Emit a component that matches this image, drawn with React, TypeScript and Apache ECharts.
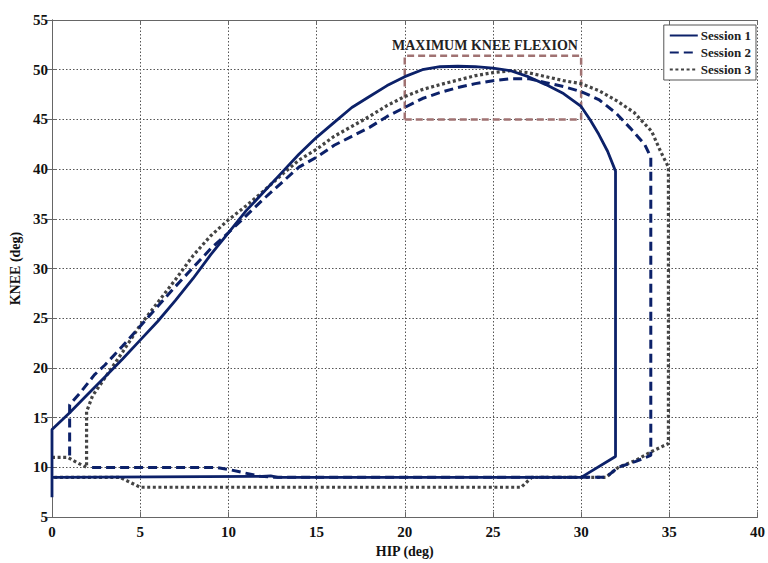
import React, { useEffect, useRef } from "react";
import * as echarts from "echarts";

const xTicks = [0, 5, 10, 15, 20, 25, 30, 35, 40];
const yTicks = [5, 10, 15, 20, 25, 30, 35, 40, 45, 50, 55];

const session1: [number, number][] = [
  [0, 7], [0, 13.8], [1, 15.5], [2, 17.3], [3, 19.1], [4, 20.9], [5, 22.8], [6, 24.7],
  [7, 26.8], [8, 29.0], [9, 31.4], [10, 33.6], [11, 35.8], [12, 37.7], [13, 39.6],
  [14, 41.5], [15, 43.2], [16, 44.7], [17, 46.2], [18, 47.3], [19, 48.4], [20, 49.3],
  [21, 50.0], [22, 50.3], [23, 50.35], [24, 50.3], [25, 50.15], [26, 49.9], [27, 49.3],
  [28, 48.5], [29, 47.6], [30, 46.3], [30.5, 45.0], [31, 43.5], [31.5, 41.8],
  [31.95, 39.8], [31.95, 11.1], [30, 9], [12.8, 9], [12.4, 9.15], [11.9, 9.1], [0, 9],
];

const session2: [number, number][] = [
  [1, 11.2], [1, 16.3], [1.6, 17.5], [2.4, 19.3], [3, 20.3], [4, 22.2], [5, 24.2],
  [6, 26.2], [7, 28.2], [8, 30.1], [9, 32.0], [10, 33.6], [11, 35.3], [12, 37.0],
  [13, 38.6], [14, 40.2], [15, 41.2], [16, 42.4], [17, 43.3], [18, 44.2], [19, 45.3],
  [20, 46.2], [21, 47.1], [22, 47.7], [23, 48.2], [24, 48.6], [25, 48.9], [26, 49.1],
  [27, 49.1], [28, 48.7], [29, 48.3], [30, 47.8], [31, 47.0], [32, 45.6], [32.8, 44.1],
  [33.6, 42.5], [33.95, 41.2], [33.95, 11.2], [33.1, 10.6], [32.1, 10], [31.4, 9],
  [12.7, 9], [11.8, 9.1], [10, 9.8], [9.3, 10], [2, 10],
];

const session3: [number, number][] = [
  [0, 11], [0.9, 11], [1.4, 10.5], [1.96, 10], [1.96, 15.6], [2.3, 17.2], [3, 19.0],
  [4, 21.6], [5, 24.3], [6, 26.6], [7, 28.9], [8, 31.3], [9, 33.3], [10, 34.9],
  [11, 36.3], [12, 37.8], [13, 39.4], [14, 40.9], [15, 42.0], [16, 43.3], [17, 44.3],
  [18, 45.3], [19, 46.4], [20, 47.3], [21, 48.0], [22, 48.5], [23, 48.95], [24, 49.4],
  [25, 49.7], [26, 49.9], [27, 49.7], [28, 49.3], [29, 48.9], [30, 48.6], [31, 47.9],
  [32, 46.9], [33, 45.7], [34, 43.8], [34.5, 41.8], [34.95, 40.2], [34.95, 12.4],
  [34, 11.6], [33.1, 10.7], [32.1, 10], [31.4, 9], [27.2, 9], [26.6, 8], [5, 8],
  [3.85, 9], [0, 9],
];

const flexionBox: [number, number][] = [
  [20, 45], [20, 51.4], [30, 51.4], [30, 45], [20, 45],
];

const seriesNames = ["Session 1", "Session 2", "Session 3"];
const boxLabel = "MAXIMUM KNEE FLEXION";

const FONT = "'Liberation Serif', 'DejaVu Serif', serif";
const NAVY = "#0c2169";
const GRAY = "#444444";

export default function App() {
  const ref = useRef<HTMLDivElement>(null);
  useEffect(() => {
    if (!ref.current) return;
    const chart = echarts.init(ref.current, undefined, { renderer: "svg" });
    const axisCommon = {
      axisLine: { show: true, lineStyle: { color: "#666", width: 1 } },
      axisTick: { show: true, inside: true, length: 5, lineStyle: { color: "#666" } },
    };
    chart.setOption({
      animation: false,
      backgroundColor: "#fff",
      grid: { left: 52, right: 8, top: 20, bottom: 36, containLabel: false },
      xAxis: [
        {
          type: "value",
          min: 0,
          max: 40,
          interval: 5,
          name: "HIP (deg)",
          nameLocation: "middle",
          nameGap: 20,
          nameTextStyle: { fontFamily: FONT, fontWeight: "bold", fontSize: 14, color: "#111" },
          ...axisCommon,
          axisLabel: {
            fontFamily: FONT,
            fontWeight: "bold",
            fontSize: 15,
            color: "#111",
            margin: 7,
            formatter: (v: number) => (xTicks.includes(v) ? String(v) : ""),
          },
          splitLine: { show: true, lineStyle: { color: "#555", type: [1.5, 2], width: 1 } },
        },
        {
          type: "value",
          position: "top",
          min: 0,
          max: 40,
          interval: 5,
          ...axisCommon,
          axisLabel: { show: false },
          splitLine: { show: false },
        },
      ],
      yAxis: [
        {
          type: "value",
          min: 5,
          max: 55,
          interval: 5,
          name: "KNEE (deg)",
          nameLocation: "middle",
          nameGap: 28,
          nameTextStyle: { fontFamily: FONT, fontWeight: "bold", fontSize: 14, color: "#111" },
          ...axisCommon,
          axisLabel: {
            fontFamily: FONT,
            fontWeight: "bold",
            fontSize: 15,
            color: "#111",
            margin: 4,
            formatter: (v: number) => (yTicks.includes(v) ? String(v) : ""),
          },
          splitLine: { show: true, lineStyle: { color: "#555", type: [1.5, 2], width: 1 } },
        },
        {
          type: "value",
          position: "right",
          min: 5,
          max: 55,
          interval: 5,
          ...axisCommon,
          axisLabel: { show: false },
          splitLine: { show: false },
        },
      ],
      legend: {
        data: seriesNames,
        orient: "vertical",
        right: 12,
        top: 25,
        itemWidth: 28,
        itemHeight: 12,
        itemGap: 4,
        padding: [4, 5, 4, 5],
        backgroundColor: "#fff",
        borderColor: "#555",
        borderWidth: 1,
        borderRadius: 0,
        itemStyle: { opacity: 0 },
        textStyle: { fontFamily: FONT, fontWeight: "bold", fontSize: 13, color: "#222", padding: [0, 0, 0, -2] },
      },
      series: [
        {
          name: "flexion-box",
          type: "line",
          data: flexionBox,
          symbol: "none",
          silent: true,
          z: 1,
          lineStyle: { color: "#a07272", width: 2.5, type: [7, 4] },
          legendHoverLink: false,
        },
        {
          name: seriesNames[2],
          type: "line",
          data: session3,
          symbol: "none",
          z: 2,
          lineStyle: { color: GRAY, width: 3.2, type: [3, 2.6], cap: "butt" },
          itemStyle: { color: GRAY },
        },
        {
          name: seriesNames[1],
          type: "line",
          data: session2,
          symbol: "none",
          z: 3,
          lineStyle: { color: NAVY, width: 3, type: [9, 5], cap: "butt" },
          itemStyle: { color: NAVY },
        },
        {
          name: seriesNames[0],
          type: "line",
          data: session1,
          symbol: "none",
          z: 4,
          lineStyle: { color: NAVY, width: 2.8, type: "solid" },
          itemStyle: { color: NAVY },
        },
      ],
      graphic: [
        {
          type: "text",
          left: 392,
          top: 38,
          style: {
            text: boxLabel,
            font: `bold 14px ${FONT}`,
            fill: "#222",
          },
        },
      ],
    });
    return () => chart.dispose();
  }, []);
  return (
    <div
      ref={ref}
      style={{ position: "fixed", left: 0, top: 0, width: 768, height: 563, background: "#fff" }}
    />
  );
}
